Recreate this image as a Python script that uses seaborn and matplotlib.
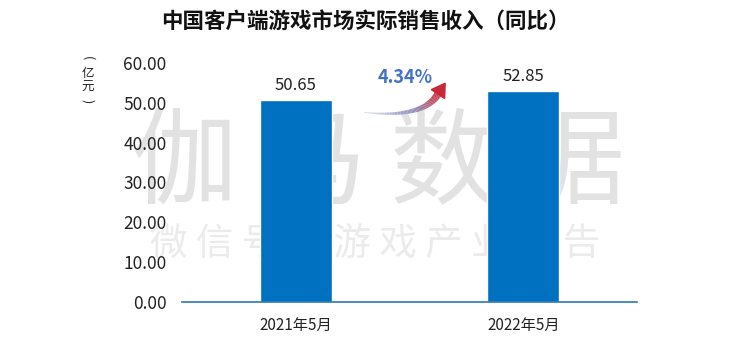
import numpy as np
import pandas as pd
import seaborn as sns
import matplotlib.pyplot as plt
from matplotlib.collections import LineCollection
from matplotlib.patches import Polygon
from matplotlib.colors import LinearSegmentedColormap

# data
months = ["2021年5月", "2022年5月"]
revenue = [50.65, 52.85]
growth_label = "4.34%"
yticks = [0, 10, 20, 30, 40, 50, 60]

sns.set_theme(style="white")
plt.rcParams['font.family'] = ['Noto Sans CJK SC', 'DejaVu Sans']

df = pd.DataFrame({"month": months, "revenue": revenue})

fig = plt.figure(figsize=(7.5, 3.51), dpi=100)
ax = fig.add_axes([0.2427, 0.1396, 0.6067, 0.681])

sns.barplot(data=df, x="month", y="revenue", color="#0070C0", saturation=1,
            width=0.316, ax=ax, zorder=2)

ax.set_xlim(-0.5, 1.5)
ax.set_ylim(0, 60)
ax.set_yticks(yticks)
ax.set_yticklabels([f"{v:.2f}" for v in yticks], fontsize=12.5, color="#222222")
ax.tick_params(axis="x", labelsize=11, colors="#222222", pad=11, length=0)
ax.tick_params(axis="y", pad=11, length=0)
ax.set_xlabel("")
ax.set_ylabel("")
for s in ["top", "right", "left"]:
    ax.spines[s].set_visible(False)
ax.spines["bottom"].set_color("#2A7AB0")
ax.spines["bottom"].set_linewidth(1.2)
ax.spines["bottom"].set_zorder(3)

# value labels
for i, v in enumerate(revenue):
    ax.text(i, v + 1.6, f"{v:.2f}", ha="center", va="bottom", fontsize=12,
            color="#222222", zorder=4)

# title and unit
fig.text(0.487, 0.94, "中国客户端游戏市场实际销售收入（同比）", ha="center",
         va="center", fontsize=15.5, fontweight="bold", color="#111111")
ux = 0.117
fig.text(ux, 0.835, "(", rotation=-90, ha="center", va="center", fontsize=9,
         color="#222222")
fig.text(ux, 0.792, "亿", ha="center", va="center", fontsize=9, color="#222222")
fig.text(ux, 0.752, "元", ha="center", va="center", fontsize=9, color="#222222")
fig.text(ux, 0.712, ")", rotation=-90, ha="center", va="center", fontsize=9,
         color="#222222")

# watermark (behind bars and tick labels)
ax.text(0.505, 0.53, "伽 马 数 据", ha="center", va="center", fontsize=76,
        color="#E2E2E2", transform=fig.transFigure, zorder=0)
ax.text(0.5, 0.30, "微 信 号 ： 游 戏 产 业 报 告", ha="center", va="center",
        fontsize=27, color="#EBEBEB", transform=fig.transFigure, zorder=0)

# growth annotation with gradient curved arrow (drawn in pixel space)
ax.text(0.48, 54.0, growth_label, ha="center", va="bottom", fontsize=13,
        fontweight="bold", color="#4472C4", zorder=5)
fig.canvas.draw()
tr = ax.transData
p0 = tr.transform((0.30, 47.6))
p1 = tr.transform((0.56, 46.0))
p2 = tr.transform((0.625, 52.2))
t = np.linspace(0, 1, 60)[:, None]
curve = (1 - t) ** 2 * p0 + 2 * (1 - t) * t * p1 + t ** 2 * p2
segs = np.stack([curve[:-1], curve[1:]], axis=1)
cmap = LinearSegmentedColormap.from_list("g", ["#DCE0EE", "#8C8FC0", "#C8283A"])
lc = LineCollection(segs, colors=cmap(np.linspace(0, 1, len(segs))),
                    linewidths=np.linspace(0.6, 5.5, len(segs)),
                    transform=None, capstyle="butt", zorder=5)
ax.add_collection(lc)
d = curve[-1] - curve[-4]
d = d / np.linalg.norm(d)
n = np.array([-d[1], d[0]])
tip = curve[-1] + d * 13
head = Polygon([tip, curve[-1] + n * 8, curve[-1] - n * 8], closed=True,
               transform=None, color="#C8283A", zorder=6)
ax.add_patch(head)

fig.savefig("out.png", dpi=100)
